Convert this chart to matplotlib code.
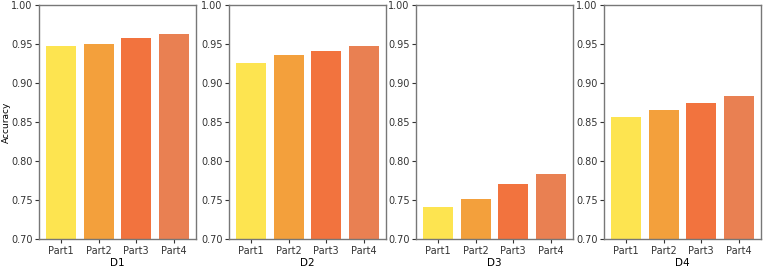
import matplotlib
matplotlib.use("Agg")
import matplotlib.pyplot as plt

parts = ["Part1", "Part2", "Part3", "Part4"]
datasets = ["D1", "D2", "D3", "D4"]
d1 = [0.948, 0.950, 0.958, 0.963]
d2 = [0.926, 0.936, 0.941, 0.947]
d3 = [0.741, 0.752, 0.771, 0.783]
d4 = [0.856, 0.865, 0.874, 0.883]
colors = ["#FDE450", "#F3A03C", "#F2733E", "#E98052"]

fig = plt.figure(figsize=(7.66, 2.70), dpi=100)
lefts = [39, 229, 416, 604]  # pixel positions of each panel's left spine
width = 157
for i, (name, vals) in enumerate(zip(datasets, [d1, d2, d3, d4])):
    ax = fig.add_axes([lefts[i] / 766, (270 - 239.3) / 270, width / 766, (239.3 - 5) / 270])
    ax.bar(parts, vals, color=colors, width=0.8)
    ax.set_ylim(0.70, 1.00)
    ax.set_yticks([0.70, 0.75, 0.80, 0.85, 0.90, 0.95, 1.00])
    ax.set_yticklabels(["%.2f" % t for t in ax.get_yticks()])
    ax.tick_params(labelsize=7, colors="#333333", length=3, width=0.8, pad=1.5)
    ax.set_xlabel(name, fontsize=7.5, labelpad=2)
    for s in ax.spines.values():
        s.set_color("#777777")
        s.set_linewidth(1.0)
    if i == 0:
        ax.set_ylabel("Accuracy", fontsize=6.5)
        ax.yaxis.set_label_coords(-0.18, 0.5)

fig.savefig("out.png", dpi=100)
